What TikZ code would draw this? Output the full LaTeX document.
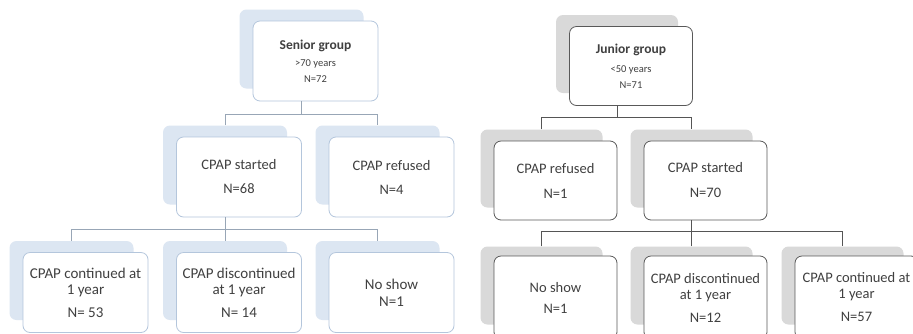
\documentclass[tikz,border=0pt]{standalone}
\usepackage{fontspec}
\setmainfont{Carlito}
\usetikzlibrary{calc}
\definecolor{shadeL}{HTML}{DCE6F2}
\definecolor{borderL}{HTML}{B4C6DC}
\definecolor{lineL}{HTML}{98A6B6}
\definecolor{shadeR}{HTML}{D9D9D9}
\definecolor{borderR}{HTML}{595959}
\definecolor{lineR}{HTML}{555555}
\definecolor{txt}{HTML}{404040}
\newcommand\mkcard[6]{%
  \node[#3] (#1S) at (#4-14,#5-12) {};
  \node[#2] (#1) at (#4,#5) {#6};}
\newcommand\ttl[1]{{\fontsize{13.5}{16}\selectfont\bfseries #1}}
\newcommand\subl[1]{{\fontsize{10.5}{16}\selectfont #1}}
\begin{document}
\begin{tikzpicture}[x=1pt,y=-1pt,
  cardbase/.style={rounded corners=7pt, inner sep=0pt, align=center, text=txt,
    font=\fontsize{14.5}{16}\selectfont},
  frontL/.style={cardbase, draw=borderL, fill=white, line width=0.8pt,
    minimum width=125pt, minimum height=80pt},
  frontLb/.style={frontL, font=\fontsize{15}{16}\selectfont},
  backL/.style={cardbase, fill=shadeL, minimum width=124pt, minimum height=79pt},
  frontR/.style={cardbase, draw=borderR, fill=white, line width=0.8pt,
    minimum width=123pt, minimum height=79pt},
  frontRb/.style={frontR, minimum height=83pt},
  backR/.style={cardbase, fill=shadeR, minimum width=122pt, minimum height=78pt},
  connL/.style={draw=lineL, line width=0.8pt},
  connR/.style={draw=lineR, line width=0.8pt}]
\useasboundingbox (0,0) rectangle (913,333);
\fill[white] (0,0) rectangle (913,333);
% ---------- left tree ----------
\mkcard{sen}{frontL}{backL}{315.5}{61}{\ttl{Senior group}\\[1pt]\subl{>70 years}\\\subl{N=72}}
\mkcard{lstart}{frontL}{backL}{239}{177}{CPAP started\\[8pt]N=68}
\mkcard{lref}{frontL}{backL}{391.5}{177}{CPAP refused\\[8pt]N=4}
\mkcard{lcont}{frontLb}{backL}{85.5}{292.5}{CPAP continued at\\1 year\\[7pt]N= 53}
\mkcard{ldisc}{frontLb}{backL}{239}{292.5}{CPAP discontinued\\at 1 year\\[7pt]N= 14}
\mkcard{lnos}{frontLb}{backL}{391.5}{292.5}{No show\\[1pt]N=1}
% ---------- right tree ----------
\mkcard{jun}{frontR}{backR}{631}{66}{\ttl{Junior group}\\[3pt]\subl{<50 years}\\\subl{N=71}}
\mkcard{rref}{frontR}{backR}{555.5}{180.5}{CPAP refused\\[9pt]N=1}
\mkcard{rstart}{frontR}{backR}{705.5}{180.5}{CPAP started\\[9pt]N=70}
\mkcard{rnos}{frontRb}{backR}{555.5}{297.5}{No show\\[5pt]N=1}
\mkcard{rdisc}{frontRb}{backR}{705.5}{297.5}{CPAP discontinued\\at 1 year\\[7pt]N=12}
\mkcard{rcont}{frontRb}{backR}{856.5}{297.5}{CPAP continued at\\1 year\\[7pt]N=57}
% ---------- bus coordinates ----------
\coordinate (busL1) at (0,114);
\coordinate (busL2) at (0,229);
\coordinate (busR1) at (0,117);
\coordinate (busR2) at (0,231);
% ---------- connectors ----------
\draw[connL] (sen.south -| senS) -- (senS |- busL1);
\draw[connL] (lstartS.north) |- (lrefS |- busL1) -- (lrefS.north);
\draw[connL] (lstart.south -| lstartS) -- (lstartS |- busL2);
\draw[connL] (lcontS.north) |- (lnosS |- busL2) -- (lnosS.north);
\draw[connL] (ldiscS.north) -- (ldiscS |- busL2);
\draw[connR] (jun.south -| junS) -- (junS |- busR1);
\draw[connR] (rrefS.north) |- (rstartS |- busR1) -- (rstartS.north);
\draw[connR] (rstart.south -| rstartS) -- (rstartS |- busR2);
\draw[connR] (rnosS.north) |- (rcontS |- busR2) -- (rcontS.north);
\draw[connR] (rdiscS.north) -- (rdiscS |- busR2);
\end{tikzpicture}
\end{document}
